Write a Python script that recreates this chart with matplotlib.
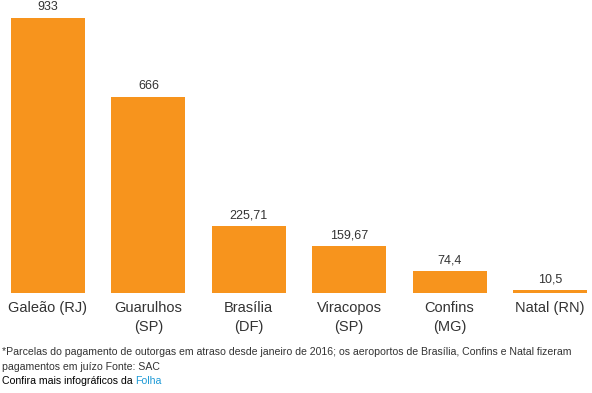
import matplotlib
matplotlib.use("Agg")
import matplotlib.pyplot as plt

plt.rcParams['font.family'] = ['Liberation Sans', 'DejaVu Sans']

# data
aeroportos = ["Galeão (RJ)", "Guarulhos\n(SP)", "Brasília\n(DF)", "Viracopos\n(SP)", "Confins\n(MG)", "Natal (RN)"]
valores = [933, 666, 225.71, 159.67, 74.4, 10.5]
rotulos = ["933", "666", "225,71", "159,67", "74,4", "10,5"]

W, H = 592, 393
fig = plt.figure(figsize=(W / 100, H / 100), dpi=100)
ax = fig.add_axes([0, 100 / H, 1, 293 / H])

x = list(range(len(valores)))
ax.bar(x, valores, width=0.737, color="#F7941D")
ax.set_xlim(-0.478, 5.418)
ax.set_ylim(0, 933 * 293 / 275)

for xi, v, r in zip(x, valores, rotulos):
    ax.annotate(r, (xi, v), xytext=(0, 3.5), textcoords="offset points",
                ha="center", va="bottom", fontsize=9, color="#333333")

ax.set_xticks(x)
ax.set_xticklabels(aeroportos, fontsize=10.5, color="#333333", linespacing=1.4, va="top")
ax.tick_params(axis="x", length=0, pad=6)
ax.set_yticks([])
for s in ax.spines.values():
    s.set_visible(False)

fs = 7.6
fig.text(2 / W, 1 - 352 / H, "*Parcelas do pagamento de outorgas em atraso desde janeiro de 2016; os aeroportos de Brasília, Confins e Natal fizeram",
         fontsize=fs, color="#333333", va="center")
fig.text(2 / W, 1 - 367 / H, "pagamentos em juízo Fonte: SAC", fontsize=fs, color="#333333", va="center")
t = fig.text(2 / W, 1 - 381 / H, "Confira mais infográficos da ", fontsize=fs, color="#000000", va="center")
fig.canvas.draw()
bb = t.get_window_extent()
fig.text(bb.x1 / W, 1 - 381 / H, "Folha", fontsize=fs, color="#1E9AD6", va="center")

fig.savefig("out.png", dpi=100)
